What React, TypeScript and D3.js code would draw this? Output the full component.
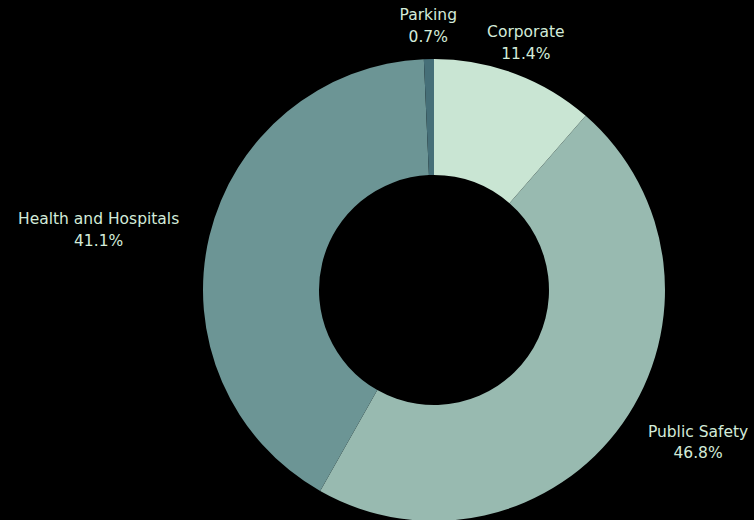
import React, { useEffect } from "react";
import * as d3 from "d3";

const categories = ["Corporate", "Public Safety", "Health and Hospitals", "Parking"];
const values = [11.4, 46.8, 41.1, 0.7];
const colors = ["#c9e5d3", "#98bab0", "#6c9595", "#466f78"];

const W = 754;
const H = 520;
const cx = 434;
const cy = 290;
const outerR = 231;
const innerR = 115;
const labelR = 262;
const fontFamily = "'DejaVu Sans', sans-serif";
const fontSize = 15.5;

function measure(text: string): number {
  const c = document.createElement("canvas");
  const ctx = c.getContext("2d");
  if (!ctx) return text.length * 8;
  ctx.font = `${fontSize}px ${fontFamily}`;
  return ctx.measureText(text).width;
}

export default function App() {
  useEffect(() => {
    document.body.style.background = "#000";
    document.documentElement.style.background = "#000";
  }, []);
  const data = categories.map((c, i) => ({ name: c, value: values[i], color: colors[i] }));
  const pie = d3.pie<any>().value((d) => d.value).sort(null);
  const arcs = pie(data);
  const arc = d3.arc<any>().innerRadius(innerR).outerRadius(outerR);
  const total = d3.sum(values);

  return (
    <div style={{ position: "fixed", left: 0, top: 0, width: W, height: H, background: "#000" }}>
      <svg width={W} height={H} style={{ display: "block", background: "#000" }}>
        <rect width={W} height={H} fill="#000" />
        <g transform={`translate(${cx},${cy})`}>
          {arcs.map((a, i) => (
            <path key={i} d={arc(a) as string} fill={a.data.color} />
          ))}
          {arcs.map((a, i) => {
            const mid = (a.startAngle + a.endAngle) / 2;
            const s = Math.sin(mid);
            const x = labelR * s;
            const y = -labelR * Math.cos(mid);
            const pct = `${((a.data.value / total) * 100).toFixed(1)}%`;
            const w = Math.max(measure(a.data.name), measure(pct));
            let cxLabel = x;
            if (Math.abs(s) > 0.6) cxLabel = x + Math.sign(s) * w / 2;
            const dy0 = Math.abs(s) > 0.6 ? "-0.3em" : "-0.5em";
            return (
              <text
                key={"l" + i}
                x={cxLabel}
                y={y}
                textAnchor="middle"
                fill="#d3ebd9"
                fontFamily={fontFamily}
                fontSize={fontSize}
              >
                <tspan x={cxLabel} dy={dy0}>{a.data.name}</tspan>
                <tspan x={cxLabel} dy="1.4em">{pct}</tspan>
              </text>
            );
          })}
        </g>
      </svg>
    </div>
  );
}
